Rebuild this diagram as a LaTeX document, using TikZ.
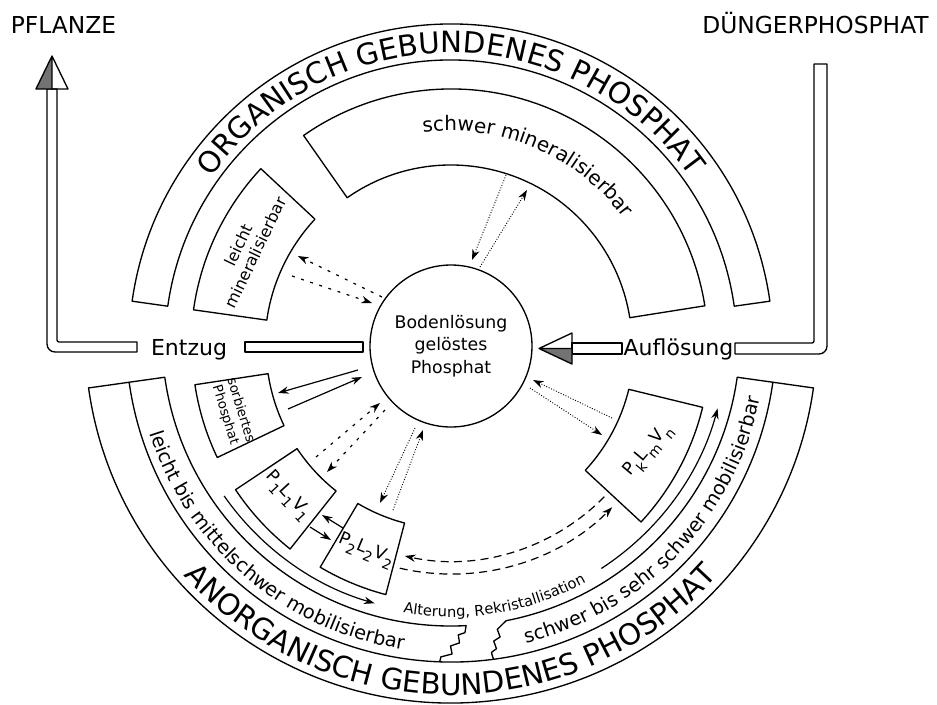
\documentclass[tikz,border=0pt]{standalone}
\usepackage{fontspec}
\setmainfont{DejaVu Sans}
\usetikzlibrary{arrows.meta}
\usetikzlibrary{calc,decorations.text}
\newcommand{\bandfont}{\fontsize{22}{26}\selectfont}
\newcommand{\zonefont}{\fontsize{14.5}{17}\selectfont}
\newcommand{\poolfont}{\fontsize{15}{18}\selectfont}
\newcommand{\agefont}{\fontsize{11}{13}\selectfont}
\newcommand{\lowidx}[1]{\raisebox{-0.75ex}{\fontsize{10.5}{10.5}\selectfont #1}}
\tikzset{
    outline/.style={line width=1pt},
    pipe/.style={line width=1pt, fill=white},
    flowsolid/.style={-{Stealth[length=8pt, width=5.5pt]}, line width=0.9pt},
    flowsparse/.style={flowsolid, dash pattern=on 2.2pt off 5pt},
    flowdotted/.style={flowsolid, line width=0.7pt, dash pattern=on 0.7pt off 1.3pt},
    flowdashed/.style={flowsolid, dash pattern=on 6pt off 4pt},
    toplabel/.style={font=\fontsize{17.5}{21}\selectfont},
    flowlabel/.style={font=\fontsize{16.5}{20}\selectfont, anchor=base},
    boxtext/.style={align=center, font=\fontsize{12}{14}\selectfont},
    pooltext/.style={font=\fontsize{13}{15}\selectfont},
    arctext/.style={decorate, decoration={text along path, text align=center, text={#1}}}
}

\begin{document}
\begin{tikzpicture}[x=0.75pt, y=0.75pt, line join=round]
    \useasboundingbox (-451,-358) rectangle (486,346);

    % Organic bands
    \draw[outline] (8:286) -- (8:322) arc[start angle=8, end angle=172, radius=322]
        -- (172:286) arc[start angle=172, end angle=8, radius=286] -- cycle;
    \path[arctext={|\bandfont|ORGANISCH GEBUNDENES PHOSPHAT}] (160:293) arc[start angle=160, end angle=20, radius=293];
    \draw[outline] (137:186) -- (137:260) arc[start angle=137, end angle=172, radius=260]
        -- (172:186) arc[start angle=172, end angle=137, radius=186] -- cycle;
    \draw[outline] (9:181) -- (9:257) arc[start angle=9, end angle=125, radius=257]
        -- (125:181) arc[start angle=125, end angle=9, radius=181] -- cycle;
    \node[boxtext, rotate=64.5] (leicht) at (154.5:226) {leicht\\mineralisierbar};
    \path[arctext={|\poolfont|schwer mineralisierbar}] (105:215) arc[start angle=105, end angle=29, radius=215];

    % Inorganic bands
    \begin{scope}[shift={(0,9)}]
        \draw[outline] (188:325) -- (188:366) arc[start angle=188, end angle=352, radius=366]
            -- (352:325) arc[start angle=352, end angle=188, radius=325] -- cycle;
        \draw[outline] (188:325) -- (188:289) arc[start angle=188, end angle=273, radius=289]
            -- (272.7:296) -- (271.4:298) -- (271.6:306) -- (269.9:309) -- (270.2:317) -- (268.2:320) -- (268:325);
        \draw[outline] (277.5:325) -- (277.3:318) -- (278.3:315) -- (278:307) -- (279.3:304) -- (279:296)
            -- (281:289) arc[start angle=281, end angle=352, radius=289] -- (352:325);
        \path[arctext={|\bandfont|ANORGANISCH GEBUNDENES PHOSPHAT}] (215:358) arc[start angle=215, end angle=325, radius=358];
        \path[arctext={|\zonefont|leicht bis mittelschwer mobilisierbar}] (192:316) arc[start angle=192, end angle=267, radius=316];
        \path[arctext={|\zonefont|schwer bis sehr schwer mobilisierbar}] (279:315) arc[start angle=279, end angle=353.6, radius=315];
        \path[arctext={|\agefont|Alterung, Rekristallisation}] (257:280) arc[start angle=257, end angle=302, radius=280];
        \coordinate (age-l) at (215:277);
        \coordinate (age-r) at (303:276);
        \draw[flowsolid] (age-l) arc[start angle=215, end angle=254, radius=277];
        \draw[flowsolid] (age-r) arc[start angle=303, end angle=345, radius=276];
    \end{scope}

    % Inorganic pools
    \draw[outline] (188.6:185) -- (188.6:259) arc[start angle=188.6, end angle=205.5, radius=259]
        -- (205.5:185) arc[start angle=205.5, end angle=188.6, radius=185] -- cycle;
    \draw[outline] (213.7:185) -- (213.7:259) arc[start angle=213.7, end angle=231.6, radius=259]
        -- (231.6:185) arc[start angle=231.6, end angle=213.7, radius=185] -- cycle;
    \draw[outline] (239.4:183) -- (239.4:257) arc[start angle=239.4, end angle=255.3, radius=257]
        -- (255.3:183) arc[start angle=255.3, end angle=239.4, radius=183] -- cycle;
    \draw[outline] (317.2:183) -- (317.2:259) arc[start angle=317.2, end angle=346.3, radius=259]
        -- (346.3:183) arc[start angle=346.3, end angle=317.2, radius=183] -- cycle;
    \node[align=center, font=\fontsize{10}{12}\selectfont, rotate=-73] (sorb) at (197:228) {sorbiertes\\Phosphat};
    \node[pooltext, rotate=-47.4] (p1) at (222.6:222) {P\lowidx{1}L\lowidx{1}V\lowidx{1}};
    \node[pooltext, rotate=-22.6] (p2) at (247.4:222) {P\lowidx{2}L\lowidx{2}V\lowidx{2}};
    \node[pooltext, rotate=50] (pk) at (332:224) {P\lowidx{k}L\lowidx{m}V\lowidx{n}};

    % Soil solution
    \node[draw, circle, line width=1pt, minimum size=121.5pt, inner sep=0pt, align=center,
        font=\fontsize{13}{17}\selectfont] (sol) at (0,0) {Bodenlösung\\gelöstes\\Phosphat};

    % Exchange arrows
    \coordinate (lm-a1) at (-69,49);   \coordinate (lm-a2) at (-153,90);
    \coordinate (lm-b1) at (-159,70);  \coordinate (lm-b2) at (-79,43);
    \coordinate (sm-a1) at (55,171);   \coordinate (sm-a2) at (21,86);
    \coordinate (sm-b1) at (29,79);    \coordinate (sm-b2) at (76,156);
    \coordinate (so-a1) at (-93,-24);  \coordinate (so-a2) at (-173,-47);
    \coordinate (so-b1) at (-163,-63); \coordinate (so-b2) at (-89,-31);
    \coordinate (p1-a1) at (-66,-64);  \coordinate (p1-a2) at (-124,-126);
    \coordinate (p1-b1) at (-135,-111);\coordinate (p1-b2) at (-71,-57);
    \coordinate (p2-a1) at (-36,-82);  \coordinate (p2-a2) at (-71,-157);
    \coordinate (p2-b1) at (-58,-164); \coordinate (p2-b2) at (-28,-84);
    \coordinate (pk-a1) at (161,-72);  \coordinate (pk-a2) at (82,-34);
    \coordinate (pk-b1) at (79,-42);   \coordinate (pk-b2) at (151,-89);
    \coordinate (pp-a1) at (-108,-182);\coordinate (pp-a2) at (-129,-169);
    \coordinate (pp-b1) at (-141,-181);\coordinate (pp-b2) at (-120,-194);
    \coordinate (p2k-a) at (315.5:215);
    \coordinate (p2k-b) at (257:228);

    \draw[flowsparse] (lm-a1) -- (lm-a2);
    \draw[flowsparse] (lm-b1) -- (lm-b2);
    \draw[flowdotted] (sm-a1) -- (sm-a2);
    \draw[flowdotted] (sm-b1) -- (sm-b2);
    \draw[flowsolid] (so-a1) -- (so-a2);
    \draw[flowsolid] (so-b1) -- (so-b2);
    \draw[flowsparse] (p1-a1) -- (p1-a2);
    \draw[flowsparse] (p1-b1) -- (p1-b2);
    \draw[flowdotted] (p2-a1) -- (p2-a2);
    \draw[flowdotted] (p2-b1) -- (p2-b2);
    \draw[flowdotted] (pk-a1) -- (pk-a2);
    \draw[flowdotted] (pk-b1) -- (pk-b2);
    \draw[flowsolid] (pp-a1) -- (pp-a2);
    \draw[flowsolid] (pp-b1) -- (pp-b2);
    \draw[flowdashed] (p2k-a) arc[start angle=315.5, end angle=257.6, radius=215];
    \draw[flowdashed] (p2k-b) arc[start angle=257, end angle=315, radius=228];

    % Entzug -> Pflanze
    \draw[pipe] (-314,4) -- (-392,4) arc[start angle=270, end angle=180, radius=2] -- (-394,257)
        -- (-404,257) -- (-404,2) arc[start angle=180, end angle=270, radius=8] -- (-314,-6) -- cycle;
    \draw[pipe] (-206,-6) rectangle (-88,4);
    \fill[black!55] (-415,257) -- (-399,257) -- (-399,290) -- cycle;
    \draw[outline] (-415,257) -- (-383,257) -- (-399,290) -- cycle (-399,257) -- (-399,290);
    \node[flowlabel] (entzug) at (-262,-9) {Entzug};
    \node[toplabel] (pflanze) at (-387.5,321) {PFLANZE};

    % Duengerphosphat -> Aufloesung
    \draw[pipe] (284,3) -- (361,3) arc[start angle=270, end angle=360, radius=2] -- (363,282)
        -- (376,282) -- (376,0) arc[start angle=0, end angle=-90, radius=8] -- (284,-8) -- cycle;
    \draw[pipe] (121,-8) rectangle (171,3);
    \fill[black!55] (121,-2.5) -- (121,-18) -- (88,-2.5) -- cycle;
    \draw[outline] (121,13) -- (121,-18) -- (88,-2.5) -- cycle (88,-2.5) -- (121,-2.5);
    \node[flowlabel] (aufl) at (227.5,-9) {Auflösung};
    \node[toplabel] (duenger) at (364.5,323) {DÜNGERPHOSPHAT};
\end{tikzpicture}
\end{document}
